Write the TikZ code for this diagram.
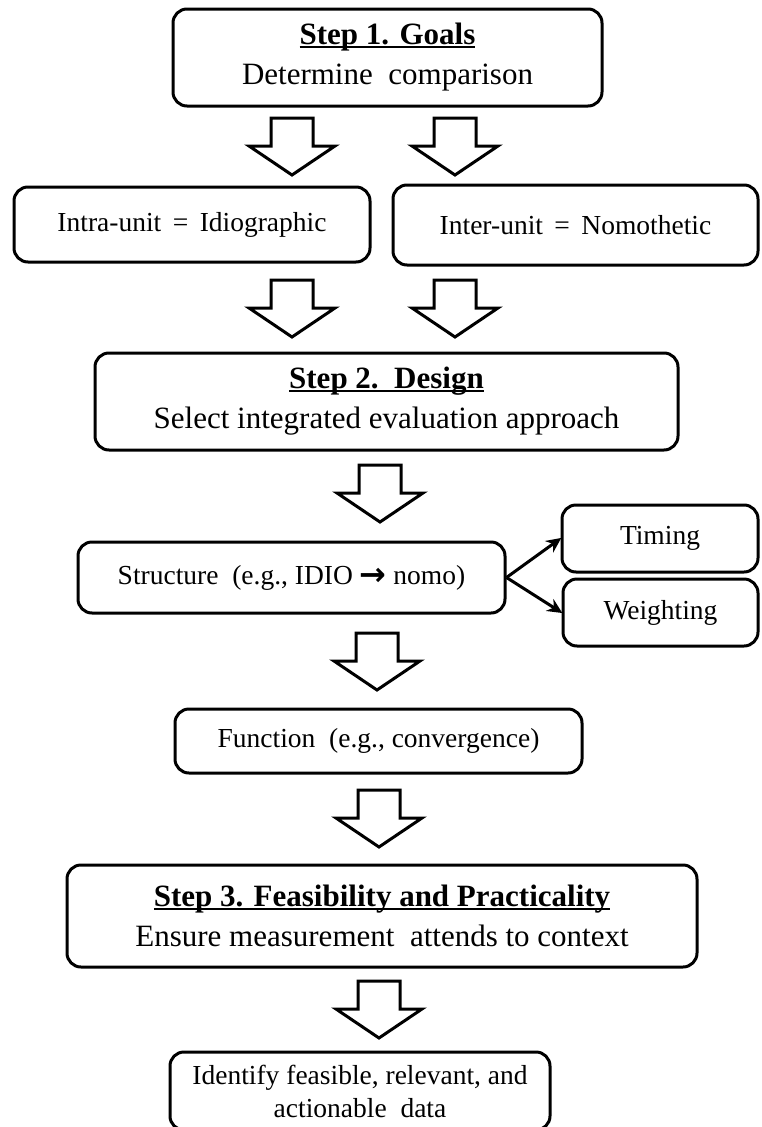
\documentclass[tikz,border=0pt]{standalone}
\usepackage{fontspec}
\setmainfont{Liberation Serif}
\newfontfamily\arrowfont{DejaVu Sans}
\usetikzlibrary{arrows.meta}
\newcommand\myul[1]{\setbox0\hbox{#1}\rlap{\rule[-3.5pt]{\wd0}{2pt}}\box0}
\newcommand\blockarrow[2]{\draw[barrow, shift={(#1,#2)}] (-21,0) -- (21,0) -- (21,28) -- (43,28) -- (0,57) -- (-43,28) -- (-21,28) -- cycle;}
\tikzset{
  box/.style={draw, line width=3pt, rounded corners=14pt, inner sep=0pt, align=center, fill=white},
  small/.style={font=\fontsize{27.5}{33}\selectfont},
  big/.style={font=\fontsize{31}{40}\selectfont},
  barrow/.style={draw, line width=3pt, line join=miter, fill=white},
  conn/.style={line width=3pt, -{Stealth[length=15pt,width=14pt]}, shorten >=-1pt}
}
\begin{document}
\begin{tikzpicture}[x=1pt,y=-1pt]
\useasboundingbox (0,0) rectangle (761,1127);
% boxes
\node[box, big, minimum width=429, minimum height=97] (s1) at (387.5,57.5)
  {\myul{\textbf{Step 1. Goals}}\\Determine \ comparison};
\node[box, small, minimum width=356, minimum height=75] (intra) at (192,224.5)
  {Intra-unit \,=\, Idiographic};
\node[box, small, minimum width=365, minimum height=80] (inter) at (575.5,225)
  {Inter-unit \,=\, Nomothetic};
\node[box, big, minimum width=583, minimum height=97] (s2) at (386.5,401.5)
  {\myul{\textbf{Step 2.\ \ Design}}\\Select integrated evaluation approach};
\node[box, small, minimum width=427, minimum height=71] (struct) at (291.5,577.5)
  {Structure \ (e.g., IDIO {\arrowfont\bfseries\fontsize{32}{32}\selectfont\raisebox{-1pt}{→}} nomo)};
\node[box, small, minimum width=196, minimum height=67] (timing) at (660,538.5) {Timing};
\node[box, small, minimum width=195, minimum height=67] (weight) at (660.5,612.5) {Weighting};
\node[box, small, minimum width=407, minimum height=64] (func) at (378.5,741)
  {Function \ (e.g., convergence)};
\node[box, big, minimum width=630, minimum height=102] (s3) at (382,916)
  {\myul{\textbf{Step 3. Feasibility and Practicality}}\\Ensure measurement \ attends to context};
\node[box, small, minimum width=380, minimum height=78] (final) at (360,1091)
  {Identify feasible, relevant, and\\actionable \ data};
% block arrows
\blockarrow{292}{118}
\blockarrow{455}{118}
\blockarrow{292}{280}
\blockarrow{455}{280}
\blockarrow{380}{465}
\blockarrow{377}{633}
\blockarrow{379}{790}
\blockarrow{379}{981}
% connectors
\draw[conn] (struct.east) -- (timing.west);
\draw[conn] (struct.east) -- (weight.west);
\end{tikzpicture}
\end{document}
